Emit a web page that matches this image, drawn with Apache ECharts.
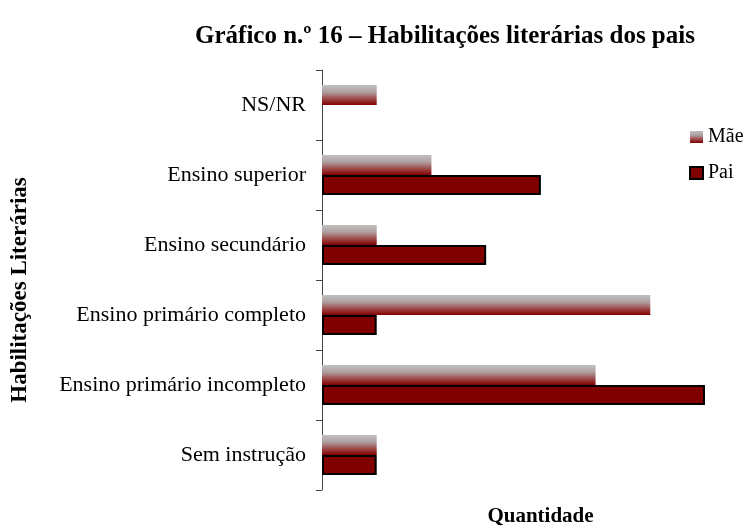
<!DOCTYPE html>
<html><head><meta charset="utf-8">
<script src="https://cdn.jsdelivr.net/npm/echarts@6/dist/echarts.min.js"></script>
<style>html,body{margin:0;padding:0;background:#fff}#c{width:747px;height:532px}</style>
</head><body><div id="c"></div>
<script>
var categories = ['Sem instrução','Ensino primário incompleto','Ensino primário completo','Ensino secundário','Ensino superior','NS/NR'];
var maeValues = [1, 5, 6, 1, 2, 1];
var paiValues = [1, 7, 1, 3, 4, 0];
var seriesNames = ['Mãe', 'Pai'];
var titleText = 'Gráfico n.º 16 – Habilitações literárias dos pais';
var yName = 'Habilitações Literárias';
var xName = 'Quantidade';

var serif = '"Liberation Serif","DejaVu Serif",serif';
var chart = echarts.init(document.getElementById('c'), null, {renderer:'canvas'});
var maeGrad = new echarts.graphic.LinearGradient(0,0,0,1,[
  {offset:0,color:'#c0c0c0'},{offset:0.35,color:'#b0a0a0'},{offset:0.75,color:'#9a3a3a'},{offset:1,color:'#800000'}]);
chart.setOption({
  animation:false,
  title:{text:titleText,left:440,textAlign:'center',top:19,textStyle:{fontFamily:serif,fontSize:25,fontWeight:'bold',color:'#000'}},
  legend:{data:seriesNames,orient:'vertical',left:684,top:122,itemWidth:13,itemHeight:12,itemGap:16,icon:'rect',
    textStyle:{fontFamily:serif,fontSize:20,color:'#000'}},
  grid:{left:322,top:70,width:383,height:434,containLabel:false},
  xAxis:{type:'value',min:0,max:7,axisLine:{show:false},axisTick:{show:false},axisLabel:{show:false},splitLine:{show:false},
    name:xName,nameLocation:'middle',nameGap:16,nameTextStyle:{fontFamily:serif,fontSize:21,fontWeight:'bold',color:'#000',padding:[0,0,0,54]}},
  yAxis:{type:'category',data:categories,
    axisLine:{show:true,lineStyle:{color:'#444',width:1}},
    axisTick:{show:true,length:6,lineStyle:{color:'#444'}},
    axisLabel:{fontFamily:serif,fontSize:22,color:'#000',margin:16},
    name:yName,nameLocation:'middle',nameGap:290,nameRotate:90,
    nameTextStyle:{fontFamily:serif,fontSize:23,fontWeight:'bold',color:'#000',padding:[0,20,0,0]}},
  series:[
    {name:'Mãe',type:'bar',data:maeValues,barCategoryGap:'43%',barGap:'0%',itemStyle:{color:maeGrad}},
    {name:'Pai',type:'bar',data:paiValues.map(function(v){return v===0?{value:v,itemStyle:{borderWidth:0}}:v;}),
      barCategoryGap:'43%',barGap:'0%',itemStyle:{color:'#800000',borderColor:'#000',borderWidth:2}}
  ]
});
</script></body></html>
